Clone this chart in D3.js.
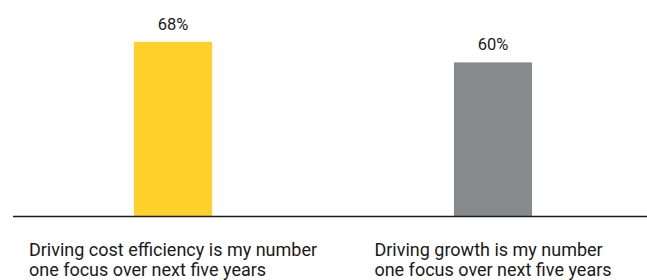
<!DOCTYPE html>
<html>
<head>
<meta charset="utf-8">
<script src="https://cdnjs.cloudflare.com/ajax/libs/d3/7.8.5/d3.min.js"></script>
<style>
  body { margin: 0; background: #fff; }
  text { font-family: Roboto, "Noto Sans", sans-serif; fill: #1a1a1a; }
</style>
</head>
<body>
<script>
"use strict";

let w = 647;
let h = 280;

// data
let categories = ["cost", "growth"];
let labelLines = [
    ["Driving cost efficiency is my number", "one focus over next five years"],
    ["Driving growth is my number", "one focus over next five years"]
];
let values = [68, 60];
let colors = ["#FED02A", "#878A8D"];

let svg = d3.select("body")
    .append("svg")
    .attr("width", w)
    .attr("height", h);

let x = d3.scaleBand()
    .domain(categories)
    .range([13, 653])
    .paddingInner(0.756)
    .paddingOuter(0.378);

let y = d3.scaleLinear()
    .domain([0, 100])
    .range([216, -40]);

// bars
svg.append("g")
    .selectAll("rect")
    .data(values)
    .enter().append("rect")
    .attr("x", (d, i) => x(categories[i]))
    .attr("y", d => y(d))
    .attr("width", x.bandwidth())
    .attr("height", d => y(0) - y(d))
    .attr("fill", (d, i) => colors[i]);

// value labels
svg.append("g")
    .selectAll("text")
    .data(values)
    .enter().append("text")
    .attr("x", (d, i) => x(categories[i]) + x.bandwidth() / 2)
    .attr("y", d => y(d) - 12)
    .attr("text-anchor", "middle")
    .style("font-size", "16.5px")
    .text(d => d + "%");

// baseline
svg.append("line")
    .attr("x1", 13)
    .attr("x2", w)
    .attr("y1", y(0) + 0.5)
    .attr("y2", y(0) + 0.5)
    .attr("stroke", "#1a1a1a")
    .attr("stroke-width", 1.5);

// category labels: lines left aligned, block centred under bar
let cat = svg.append("g")
    .selectAll("text")
    .data(labelLines)
    .enter().append("text")
    .attr("y", 256)
    .style("font-size", "18px");

cat.selectAll("tspan")
    .data(d => d)
    .enter().append("tspan")
    .attr("x", 0)
    .attr("dy", (d, i) => i === 0 ? 0 : 20)
    .text(d => d);

cat.each(function(d, i) {
    let bw = this.getBBox().width;
    let cx = x(categories[i]) + x.bandwidth() / 2;
    d3.select(this).selectAll("tspan").attr("x", cx - bw / 2);
});
</script>
</body>
</html>
